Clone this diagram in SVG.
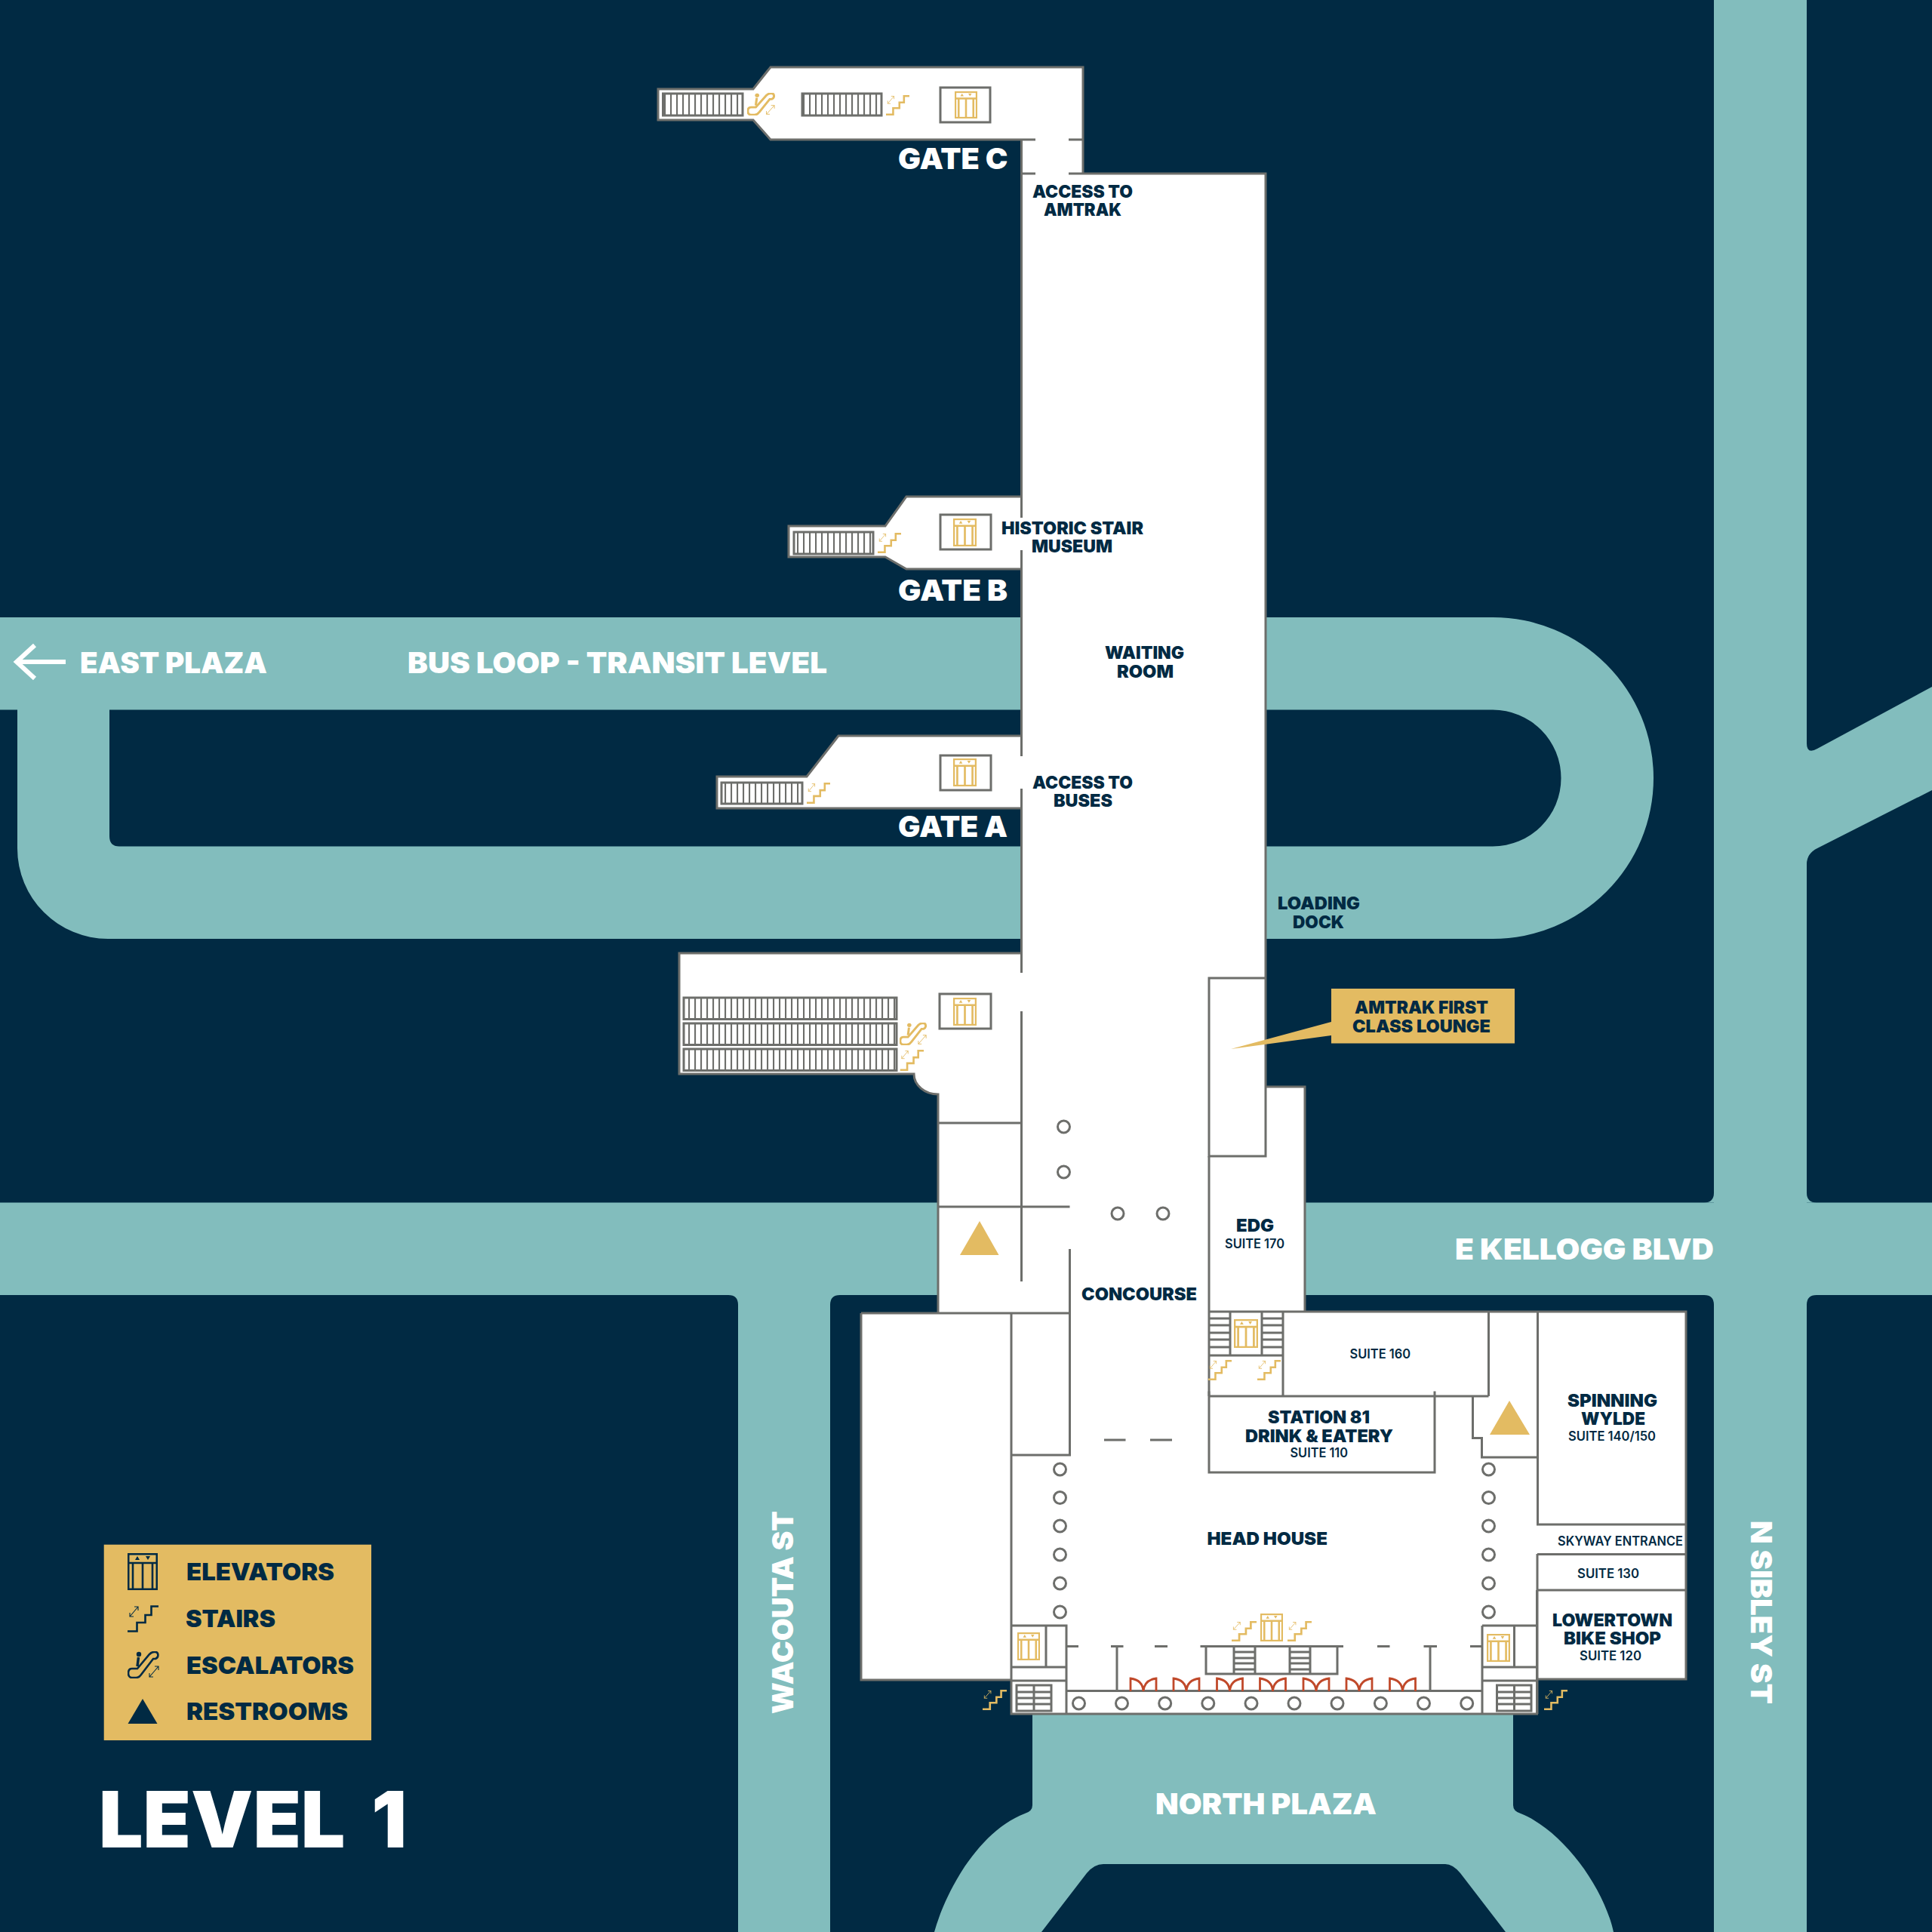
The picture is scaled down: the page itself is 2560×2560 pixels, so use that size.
<svg xmlns="http://www.w3.org/2000/svg" width="2560" height="2560" viewBox="0 0 2560 2560">
<style>
.road{fill:#82bdbd}
.floor{fill:#fff}
.wall{fill:none;stroke:#6d6e6b;stroke-width:3}
.col{fill:#fff;stroke:#6d6e6b;stroke-width:3}
.gold{color:#e3bb62;stroke-width:3.4}
.navy{color:#012a43;stroke-width:2.6}
text{font-family:Inter,Lato,"Liberation Sans",sans-serif;font-weight:900;fill:#012a43}
.w{fill:#fff}
.s{font-weight:600}
.f23{font-size:23px}
.f39{font-size:39px}
.f32{font-size:32px}
.f17{font-size:17px}
</style>
<defs>
<pattern id="bars" patternUnits="userSpaceOnUse" width="8" height="10"><rect width="8" height="10" fill="#fff"/><rect x="0" width="2.1" height="10" fill="#6d6e6b"/></pattern>
<symbol id="elev" viewBox="0 0 40 49" preserveAspectRatio="none">
<g fill="none" stroke="currentColor"><rect x="1.200" y="1.200" width="37.600" height="46.600"/><path d="M1,13H39M7,13V48M33,13V48M20,13V48"/></g>
<path d="M10,9L13,4L16,9ZM24,4L30,4L27,9Z" fill="currentColor"/>
</symbol>
<symbol id="stairs" viewBox="0 0 41 36" preserveAspectRatio="none">
<path d="M0,34.500H12.500V23H23.500V13H31.500V1.500H41" fill="none" stroke="currentColor"/>
<path d="M3,15L14,2M3,10V15H8M9,2H14V7" fill="none" stroke="currentColor" stroke-width="1.100"/>
</symbol>
<symbol id="esc" viewBox="0 0 42 36" preserveAspectRatio="none">
<path d="M1,29C1,25 3,23 6,23H13L29,4C31,2 32,1 35,1H37C41,1 42,8 37,10H34L18,31C16,34 14,35 11,35H6C3,35 1,33 1,29Z" fill="none" stroke="currentColor"/>
<circle cx="15" cy="4" r="3.200" fill="currentColor"/>
<path d="M14.500,8L13,20" stroke="currentColor" stroke-width="3.500"/>
<path d="M29,34L41,20M29,29V34H34M36,20H41V25" fill="none" stroke="currentColor" stroke-width="1.100"/>
</symbol>
<symbol id="door" viewBox="0 0 36 19" overflow="visible">
<path d="M1,18V1Q17,3 18,18Q19,3 35,1V18" fill="none" stroke="#c0492a" stroke-width="2.800"/>
</symbol>
</defs>
<rect id="background" width="2560" height="2560" fill="#012a43"/>
<g id="roads">
<rect class="road" x="0" y="1593.500" width="2560" height="122.500"/>
<rect class="road" x="2271" y="0" width="123" height="2560"/>
<rect class="road" x="978" y="1700" width="122" height="860"/>
<path class="road" fill-rule="evenodd" d="M0,818H1978A213,213 0 0 1 1978,1244H143A120,120 0 0 1 23,1124V940.500H0ZM145,940.500V1108Q145,1121.500 158,1121.500H1978A90.500,90.500 0 0 0 1978,940.500Z"/>
<path class="road" d="M2390,975H2394V985Q2394,1000 2408,992L2560,910V1047L2408,1124Q2394,1131 2394,1145H2390Z"/>
<path class="road" d="M1368,2265V2392Q1368,2400 1358,2403C1300,2425 1255,2500 1238,2560H1380L1440,2482Q1450,2470 1462,2470H1915Q1925,2470 1935,2482L1995,2560H2138C2125,2500 2070,2425 2015,2403Q2005,2400 2005,2392V2265Z"/>
<path class="road" d="M965,1716H978V1729Q978,1716 965,1716ZM1100,1729V1716H1113Q1100,1716 1100,1729ZM2258,1593.500H2271V1580.500Q2271,1593.500 2258,1593.500ZM2258,1716H2271V1729Q2271,1716 2258,1716ZM2407,1593.500H2394V1580.500Q2394,1593.500 2407,1593.500ZM2407,1716H2394V1729Q2394,1716 2407,1716Z"/>
</g>
<g id="building-floor">
<path class="floor" d="M872,118H998L1021,89H1435V230H1677V1440H1729V1738H2234V2225H2037V2271H1340V2226H1141V1740H1243V1450A32,27 0 0 1 1211,1423H900V1263H1353V1071H950V1029H1069L1111,975H1353V754H1201L1173,738H1045V697H1173L1201,658H1353V230V185H1021L998,159H872Z"/>
</g>
<g id="walls">
<path class="wall" d="M1372,185H1021L998,159H872V118H998L1021,89H1435V230M1416,185H1435M1353.500,230H1372M1416,230H1677V1532H1602V1296H1677"/>
<path class="wall" d="M1353.500,185V686M1353.500,729V1002M1353.500,1045V1289M1353.500,1340V1698"/>
<path class="wall" d="M1353,658H1201L1173,697H1045V738H1173L1201,754H1353"/>
<path class="wall" d="M1353,975H1111L1069,1029H950V1071H1353"/>
<path class="wall" d="M1353,1263H900V1423H1211A32,27 0 0 0 1243,1450V1740M1243,1488H1353M1243,1599H1417.500M1417.500,1655V1928H1340M1141,1740H1417.500M1141,1740V2226H1340M1340,1740V2271H2036.500V2107"/>
<path class="wall" d="M1677,1440H1729V1738M1602,1532V1850M1602,1738H2234V2225H2037M2037.500,1738V2020H2234M2037,2059.500H2234M2037,2107H2234M2037,2059V2271"/>
<path class="wall" d="M1602,1796H1700M1630,1738V1796M1672,1738V1796M1700,1738V1850M1972.500,1738V1850M1602,1843.500V1951H1901V1843.500M1602,1850H1972.500M1951.500,1850V1905.500H1963.500V1931H2037"/>
<path class="wall" d="M1602,1747H1630M1602,1756H1630M1602,1766H1630M1602,1775H1630M1602,1785H1630M1672,1747H1700M1672,1756H1700M1672,1766H1700M1672,1775H1700M1672,1785H1700"/>
<path class="wall" d="M1463,1908H1491.500M1524,1908H1553"/>
<path class="wall" d="M1340,2154H1413V2271M1386,2154V2209M1340,2209H1413M1340,2227H1413M1964,2154H2036.500M1964,2154V2271M2006.500,2154V2209M1964,2209H2036.500M1964,2227H2036.500M1413,2240.500H1964"/>
<path class="wall" d="M1413,2181.500H1429M1472,2181.500H1488.500M1480,2181.500V2240.500M1530,2181.500H1547M1590.500,2181.500H1780M1598,2181.500V2218H1772V2181.500M1635,2181.500V2218M1663,2181.500V2218M1709,2181.500V2218M1736,2181.500V2218M1825,2181.500H1841.500M1886.500,2181.500H1904M1895,2181.500V2240.500M1948,2181.500H1964"/>
<path class="wall" d="M1635,2189H1663M1635,2197H1663M1635,2204H1663M1635,2212H1663M1709,2189H1736M1709,2197H1736M1709,2204H1736M1709,2212H1736"/>
<path class="wall" d="M1347,2233H1393V2267H1347ZM1370,2233V2267M1347,2242H1393M1347,2250H1393M1347,2258H1393M1983.500,2233H2029V2267H1983.500ZM2006.500,2233V2267M1983.500,2242H2029M1983.500,2250H2029M1983.500,2258H2029"/>
</g>
<g id="columns">
<circle class="col" cx="1409.500" cy="1493" r="8"/><circle class="col" cx="1409.500" cy="1553" r="8"/><circle class="col" cx="1481" cy="1608" r="8"/><circle class="col" cx="1541" cy="1608" r="8"/>
<circle class="col" cx="1404.500" cy="1947" r="8"/><circle class="col" cx="1404.500" cy="1984.500" r="8"/><circle class="col" cx="1404.500" cy="2022" r="8"/><circle class="col" cx="1404.500" cy="2060" r="8"/><circle class="col" cx="1404.500" cy="2098" r="8"/><circle class="col" cx="1404.500" cy="2136" r="8"/>
<circle class="col" cx="1972.500" cy="1947" r="8"/><circle class="col" cx="1972.500" cy="1984.500" r="8"/><circle class="col" cx="1972.500" cy="2022" r="8"/><circle class="col" cx="1972.500" cy="2060" r="8"/><circle class="col" cx="1972.500" cy="2098" r="8"/><circle class="col" cx="1972.500" cy="2136" r="8"/>
<circle class="col" cx="1429.500" cy="2257" r="8"/><circle class="col" cx="1486.500" cy="2257" r="8"/><circle class="col" cx="1543.700" cy="2257" r="8"/><circle class="col" cx="1600.800" cy="2257" r="8"/><circle class="col" cx="1658" cy="2257" r="8"/><circle class="col" cx="1715" cy="2257" r="8"/><circle class="col" cx="1772" cy="2257" r="8"/><circle class="col" cx="1829.400" cy="2257" r="8"/><circle class="col" cx="1886.500" cy="2257" r="8"/><circle class="col" cx="1943.700" cy="2257" r="8"/>
</g>
<g id="doors">
<use href="#door" x="1497" y="2223" width="36" height="19"/><use href="#door" x="1554" y="2223" width="36" height="19"/><use href="#door" x="1611.500" y="2223" width="36" height="19"/><use href="#door" x="1668.500" y="2223" width="36" height="19"/><use href="#door" x="1726" y="2223" width="36" height="19"/><use href="#door" x="1783" y="2223" width="36" height="19"/><use href="#door" x="1840.500" y="2223" width="36" height="19"/>
</g>
<g id="stair-runs">
<rect class="wall" x="878.500" y="124" width="105.500" height="29" style="fill:url(#bars)"/>
<rect class="wall" x="1063" y="124" width="105" height="29" style="fill:url(#bars)"/>
<rect class="wall" x="1052" y="705" width="105" height="29" style="fill:url(#bars)"/>
<rect class="wall" x="956" y="1037" width="107" height="28" style="fill:url(#bars)"/>
<rect class="wall" x="906" y="1322" width="282" height="28.500" style="fill:url(#bars)"/>
<rect class="wall" x="906" y="1356" width="282" height="28.500" style="fill:url(#bars)"/>
<rect class="wall" x="906" y="1390" width="282" height="28.500" style="fill:url(#bars)"/>
</g>
<g id="elevator-boxes">
<rect class="wall" x="1246" y="116" width="66" height="46"/>
<rect class="wall" x="1246" y="682" width="67" height="46"/>
<rect class="wall" x="1246" y="1001" width="67" height="46"/>
<rect class="wall" x="1245" y="1317" width="68" height="46"/>
</g>
<g id="gold-icons" class="gold">
<use href="#elev" x="1265" y="121" width="30" height="36"/>
<use href="#elev" x="1263" y="687" width="31" height="37"/>
<use href="#elev" x="1263" y="1005" width="31" height="37"/>
<use href="#elev" x="1263" y="1322" width="31" height="37"/>
<use href="#elev" x="1635" y="1748" width="32" height="38"/>
<use href="#elev" x="1670" y="2138" width="30" height="37"/>
<use href="#elev" x="1348" y="2163" width="30" height="37"/>
<use href="#elev" x="1970" y="2165" width="31" height="37"/>
<use href="#esc" x="990" y="123" width="37" height="30"/>
<use href="#esc" x="1192" y="1355" width="36" height="30"/>
<use href="#stairs" x="1174" y="126" width="31" height="27"/>
<use href="#stairs" x="1163" y="706" width="31" height="27"/>
<use href="#stairs" x="1069" y="1037" width="31" height="28"/>
<use href="#stairs" x="1192.500" y="1391" width="31.500" height="28"/>
<use href="#stairs" x="1601" y="1802" width="31" height="27"/>
<use href="#stairs" x="1666" y="1802" width="31" height="27"/>
<use href="#stairs" x="1632" y="2148" width="33" height="27"/>
<use href="#stairs" x="1706" y="2148" width="32" height="27"/>
<use href="#stairs" x="1302" y="2239" width="32" height="27"/>
<use href="#stairs" x="2046" y="2239" width="31" height="27"/>
<path d="M1298,1618L1323.500,1663H1272Z" fill="#e3bb62"/>
<path d="M2000,1856L2027,1901H1974Z" fill="#e3bb62"/>
</g>
<g id="callout">
<path d="M1631,1390L1764,1354V1310H2007V1382.500H1764V1372Z" fill="#e3bb62"/>
<text class="f23" x="1795" y="1343" textLength="177" lengthAdjust="spacingAndGlyphs">AMTRAK FIRST</text>
<text class="f23" x="1792" y="1367.500" textLength="183" lengthAdjust="spacingAndGlyphs">CLASS LOUNGE</text>
</g>
<g id="legend">
<rect x="137.700" y="2046.700" width="354.300" height="259.300" fill="#e3bb62"/>
<g class="navy">
<use href="#elev" x="169" y="2058" width="40" height="49"/>
<use href="#stairs" x="169" y="2127" width="41" height="36"/>
<use href="#esc" x="169" y="2188" width="42" height="36"/>
</g>
<path d="M189,2251L208.500,2284H169.500Z" fill="#012a43"/>
<text class="f32" x="247" y="2094" textLength="196" lengthAdjust="spacingAndGlyphs">ELEVATORS</text>
<text class="f32" x="246" y="2156" textLength="119" lengthAdjust="spacingAndGlyphs">STAIRS</text>
<text class="f32" x="247" y="2217.500" textLength="222" lengthAdjust="spacingAndGlyphs">ESCALATORS</text>
<text class="f32" x="247" y="2279" textLength="214" lengthAdjust="spacingAndGlyphs">RESTROOMS</text>
</g>
<g id="map-labels">
<text class="w" style="font-size:103px;word-spacing:14px" x="131" y="2448" textLength="408" lengthAdjust="spacingAndGlyphs">LEVEL 1</text>
<text class="w f39" x="1190" y="224" textLength="145.500" lengthAdjust="spacingAndGlyphs">GATE C</text>
<text class="w f39" x="1190" y="796" textLength="145" lengthAdjust="spacingAndGlyphs">GATE B</text>
<text class="w f39" x="1190" y="1109" textLength="145" lengthAdjust="spacingAndGlyphs">GATE A</text>
<text class="w f39" x="106" y="892" textLength="248" lengthAdjust="spacingAndGlyphs">EAST PLAZA</text>
<text class="w f39" x="540" y="892" textLength="556" lengthAdjust="spacingAndGlyphs">BUS LOOP - TRANSIT LEVEL</text>
<text class="w f39" x="1928" y="1668.500" textLength="343" lengthAdjust="spacingAndGlyphs">E KELLOGG BLVD</text>
<text class="w f39" x="1531" y="2404" textLength="293" lengthAdjust="spacingAndGlyphs">NORTH PLAZA</text>
<text class="w f39" transform="translate(1051,2271) rotate(-90)" textLength="269" lengthAdjust="spacingAndGlyphs">WACOUTA ST</text>
<text class="w f39" transform="translate(2320,2015) rotate(90)" textLength="243" lengthAdjust="spacingAndGlyphs">N SIBLEY ST</text>
<path d="M87,877H22M46,855L22,877L46,899" fill="none" stroke="#fff" stroke-width="6"/>
<text class="f23" x="1368" y="262" textLength="133" lengthAdjust="spacingAndGlyphs">ACCESS TO</text>
<text class="f23" x="1383" y="286" textLength="103" lengthAdjust="spacingAndGlyphs">AMTRAK</text>
<text class="f23" x="1327" y="708" textLength="188" lengthAdjust="spacingAndGlyphs">HISTORIC STAIR</text>
<text class="f23" x="1367" y="732" textLength="107" lengthAdjust="spacingAndGlyphs">MUSEUM</text>
<text class="f23" x="1464" y="873" textLength="105" lengthAdjust="spacingAndGlyphs">WAITING</text>
<text class="f23" x="1480" y="898" textLength="75" lengthAdjust="spacingAndGlyphs">ROOM</text>
<text class="f23" x="1368" y="1045" textLength="133" lengthAdjust="spacingAndGlyphs">ACCESS TO</text>
<text class="f23" x="1396" y="1069" textLength="78" lengthAdjust="spacingAndGlyphs">BUSES</text>
<text class="f23" x="1693" y="1205" textLength="109" lengthAdjust="spacingAndGlyphs">LOADING</text>
<text class="f23" x="1713" y="1230" textLength="68" lengthAdjust="spacingAndGlyphs">DOCK</text>
<text class="f23" x="1638" y="1632" textLength="50" lengthAdjust="spacingAndGlyphs">EDG</text>
<text class="f17 s" x="1623" y="1653.500" textLength="79" lengthAdjust="spacingAndGlyphs">SUITE 170</text>
<text class="f23" x="1433" y="1723" textLength="153" lengthAdjust="spacingAndGlyphs">CONCOURSE</text>
<text class="f17 s" x="1788.500" y="1799.500" textLength="80.500" lengthAdjust="spacingAndGlyphs">SUITE 160</text>
<text class="f23" x="1680" y="1886" textLength="135" lengthAdjust="spacingAndGlyphs">STATION 81</text>
<text class="f23" x="1650" y="1910.500" textLength="196" lengthAdjust="spacingAndGlyphs">DRINK &amp; EATERY</text>
<text class="f17 s" x="1709.500" y="1931" textLength="76.500" lengthAdjust="spacingAndGlyphs">SUITE 110</text>
<text class="f23" x="1599.500" y="2046.500" textLength="159.500" lengthAdjust="spacingAndGlyphs">HEAD HOUSE</text>
<text class="f23" x="2077" y="1863.500" textLength="119" lengthAdjust="spacingAndGlyphs">SPINNING</text>
<text class="f23" x="2095" y="1887.500" textLength="85" lengthAdjust="spacingAndGlyphs">WYLDE</text>
<text class="f17 s" x="2078" y="1909" textLength="116" lengthAdjust="spacingAndGlyphs">SUITE 140/150</text>
<text class="f17 s" x="2064" y="2047.500" textLength="166" lengthAdjust="spacingAndGlyphs">SKYWAY ENTRANCE</text>
<text class="f17 s" x="2090" y="2091" textLength="82" lengthAdjust="spacingAndGlyphs">SUITE 130</text>
<text class="f23" x="2057" y="2154.500" textLength="159" lengthAdjust="spacingAndGlyphs">LOWERTOWN</text>
<text class="f23" x="2072" y="2178.500" textLength="129" lengthAdjust="spacingAndGlyphs">BIKE SHOP</text>
<text class="f17 s" x="2093" y="2199.500" textLength="82" lengthAdjust="spacingAndGlyphs">SUITE 120</text>
</g>
</svg>
